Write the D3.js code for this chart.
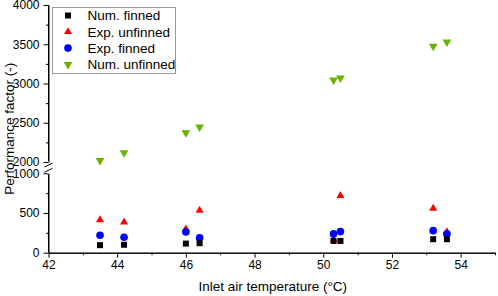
<!DOCTYPE html>
<html>
<head>
<meta charset="utf-8">
<script src="https://cdn.jsdelivr.net/npm/d3@7"></script>
<style>
  body { margin: 0; background: #fff; }
  svg { display: block; font-family: "Liberation Sans", Arial, sans-serif; }
</style>
</head>
<body>
<div id="chart"></div>
<script>
// Inlet air temperatures (°C)
const temps = [43.5, 44.2, 46.0, 46.4, 50.3, 50.5, 53.2, 53.6];

// Performance factor per series
const numFinned   = [95, 100, 115, 120, 148, 148, 170, 170];
const expUnfinned = [414, 385, 296, 532, 160, 718, 557, 262];
const expFinned   = [220, 195, 262, 186, 237, 266, 278, 237];
const numUnfinned = [2020, 2118, 2373, 2445, 3043, 3069, 3475, 3530];

// Axis ticks
const xTicks = [42, 44, 46, 48, 50, 52, 54];
const xMinor = [43, 45, 47, 49, 51, 53, 55];
const yLowTicks = [0, 500, 1000];
const yLowMinor = [250, 750];
const yUpTicks = [2000, 2500, 3000, 3500, 4000];
const yUpMinor = [2250, 2750, 3250, 3750];

const width = 498, height = 296;

const svg = d3.select('#chart').append('svg')
    .attr('width', width)
    .attr('height', height);

// Scales: x, and a broken y axis in two segments
const xScale = d3.scaleLinear().domain([42, 55]).range([48.5, 495]);
const yLow = d3.scaleLinear().domain([0, 1000]).range([252.7, 173.3]);
const yUp = d3.scaleLinear().domain([2000, 4000]).range([162, 5]);
const yOf = v => v >= 1500 ? yUp(v) : yLow(v);

const axisX = xScale(42);
const axisY = yLow(0);
const fmt = d3.format('d');

// Bottom axis
const gx = svg.append('g').attr('transform', `translate(0, ${axisY})`);
gx.call(d3.axisBottom(xScale).tickValues(xTicks).tickFormat(fmt).tickSize(5).tickPadding(3).tickSizeOuter(0));
gx.append('g').call(d3.axisBottom(xScale).tickValues(xMinor).tickSize(2.5).tickFormat('').tickSizeOuter(0));

// Left axis, lower segment
const gyl = svg.append('g').attr('transform', `translate(${axisX}, 0)`);
gyl.call(d3.axisLeft(yLow).tickValues(yLowTicks).tickFormat(fmt).tickSize(5).tickPadding(4).tickSizeOuter(0));
gyl.append('g').call(d3.axisLeft(yLow).tickValues(yLowMinor).tickSize(2.5).tickFormat('').tickSizeOuter(0));
gyl.select('.domain').attr('d', `M0,${yLow(0)}V${yLow(1000) + 1}`);

// Left axis, upper segment
const gyu = svg.append('g').attr('transform', `translate(${axisX}, 0)`);
gyu.call(d3.axisLeft(yUp).tickValues(yUpTicks).tickFormat(fmt).tickSize(5).tickPadding(4).tickSizeOuter(0));
gyu.append('g').call(d3.axisLeft(yUp).tickValues(yUpMinor).tickSize(2.5).tickFormat('').tickSizeOuter(0));
gyu.select('.domain').attr('d', `M0,${yUp(2000) - 1}V${yUp(4000)}`);

svg.selectAll('.tick text').attr('font-size', 12).attr('font-family', '"Liberation Sans", Arial, sans-serif').attr('fill', '#000');
svg.selectAll('.domain, .tick line').attr('stroke', '#000').attr('stroke-width', 1);
svg.selectAll('.domain').attr('fill', 'none');

// Break marks on the y axis
const breakMid = (yUp(2000) + yLow(1000)) / 2;
[-2.6, 2.6].forEach(off => {
    svg.append('line')
        .attr('x1', axisX - 4).attr('y1', breakMid + off + 2)
        .attr('x2', axisX + 4).attr('y2', breakMid + off - 2)
        .attr('stroke', '#000').attr('stroke-width', 1);
});

// Series definitions
const series = [
    { name: 'Exp. unfinned', values: expUnfinned, color: '#ff0000', type: d3.symbolTriangle, size: 28, rot: 0 },
    { name: 'Exp. finned', values: expFinned, color: '#0000ff', type: d3.symbolCircle, size: 46, rot: 0 },
    { name: 'Num. finned', values: numFinned, color: '#000000', type: d3.symbolSquare, size: 36, rot: 0 },
    { name: 'Num. unfinned', values: numUnfinned, color: '#66b300', type: d3.symbolTriangle, size: 33, rot: 180 }
];

// Draw markers
series.forEach(s => {
    svg.append('g').selectAll('path')
        .data(temps.map((t, i) => ({ t: t, v: s.values[i] })))
        .enter().append('path')
        .attr('d', d3.symbol().type(s.type).size(s.size))
        .attr('transform', d => `translate(${xScale(d.t)}, ${yOf(d.v)}) rotate(${s.rot})`)
        .attr('fill', s.color);
});

// Legend
const legendOrder = ['Num. finned', 'Exp. unfinned', 'Exp. finned', 'Num. unfinned'];
const legend = svg.append('g');
legend.append('rect')
    .attr('x', 52.5).attr('y', 7.5)
    .attr('width', 123).attr('height', 66)
    .attr('fill', '#fff')
    .attr('stroke', '#999').attr('stroke-width', 1);
legendOrder.forEach((name, i) => {
    const s = series.find(d => d.name === name);
    const ly = 15.5 + i * 16.3;
    legend.append('path')
        .attr('d', d3.symbol().type(s.type).size(s.size))
        .attr('transform', `translate(68, ${ly}) rotate(${s.rot})`)
        .attr('fill', s.color);
    legend.append('text')
        .attr('x', 87.5).attr('y', ly + 4.8)
        .attr('font-size', 13.5)
        .text(name);
});

// Axis titles
svg.append('text')
    .attr('x', (xScale(42) + xScale(55)) / 2 + 1)
    .attr('y', 291)
    .attr('text-anchor', 'middle')
    .attr('font-size', 13.5)
    .text('Inlet air temperature (°C)');

svg.append('text')
    .attr('transform', 'rotate(-90)')
    .attr('x', -(yUp(4000) + yLow(0)) / 2)
    .attr('y', 14)
    .attr('text-anchor', 'middle')
    .attr('font-size', 13.5)
    .text('Performance factor (-)');
</script>
</body>
</html>
